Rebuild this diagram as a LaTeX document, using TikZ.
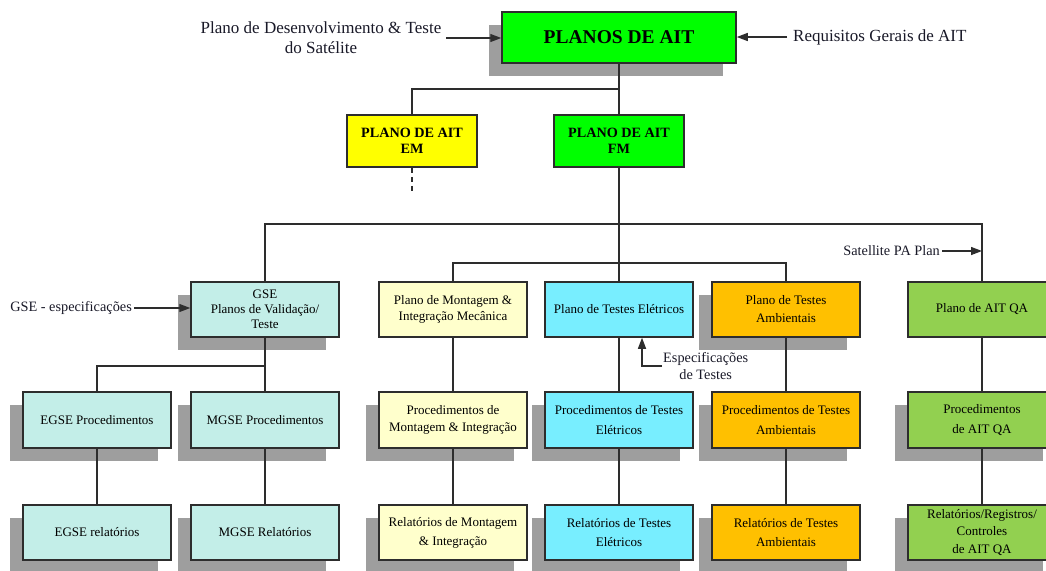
\documentclass[tikz,border=0pt]{standalone}
\usepackage{fontspec}
\setmainfont{Liberation Serif}
\usetikzlibrary{shadows,arrows.meta}
\definecolor{topgreen}{RGB}{0,255,0}
\definecolor{emyellow}{RGB}{255,255,0}
\definecolor{gsecyan}{RGB}{195,238,232}
\definecolor{monyellow}{RGB}{255,255,204}
\definecolor{elecyan}{RGB}{120,238,255}
\definecolor{amborange}{RGB}{255,192,0}
\definecolor{qagreen}{RGB}{146,208,80}
\definecolor{shgray}{RGB}{158,158,158}
\definecolor{inktext}{RGB}{25,25,40}
\definecolor{linegray}{RGB}{45,45,45}
\tikzset{
  box/.style={draw=linegray, line width=1.5pt, minimum width=148pt, minimum height=55pt,
    inner sep=2pt, align=center, text=black, font=\fontsize{13}{18}\selectfont},
  shad/.style={drop shadow={shadow xshift=-13pt, shadow yshift=-13pt, fill=shgray, opacity=1}},
  boldbox/.style={box, minimum width=130pt, minimum height=52pt, font=\bfseries\fontsize{14.2}{16.5}\selectfont},
  conn/.style={draw=linegray, line width=1.3pt},
  arr/.style={conn, -{Triangle[length=11pt,width=8pt]}},
  biglabel/.style={align=center, text=inktext, inner sep=2pt, font=\fontsize{17}{20}\selectfont},
  sidelabel/.style={align=center, text=inktext, inner sep=2pt, font=\fontsize{14.3}{17}\selectfont}
}
\begin{document}
\begin{tikzpicture}[x=1pt,y=-1pt]
\clip (0,0) rectangle (1046,570);
\fill[white] (0,0) rectangle (1046,570);

% top level
\node[box, shad, fill=topgreen, minimum width=234pt, minimum height=51pt,
  font=\bfseries\fontsize{19.5}{22}\selectfont] (top) at (619,37.5) {PLANOS DE AIT};
\node[biglabel, inner xsep=5pt] (dev) at (321,38) {Plano de Desenvolvimento \& Teste\\do Satélite};
\node[biglabel, anchor=west, inner xsep=6pt] (req) at (787,37) {Requisitos Gerais de AIT};

% second level
\node[boldbox, fill=emyellow] (em) at (412,141) {PLANO DE AIT\\EM};
\node[boldbox, fill=topgreen] (fm) at (619,141) {PLANO DE AIT\\FM};
\coordinate (emend) at (412,194);

% third level
\node[box, shad, fill=gsecyan, font=\fontsize{13}{15}\selectfont] (gse) at (265,309.5) {GSE\\Planos de Validação/\\Teste};
\node[box, fill=monyellow, font=\fontsize{13}{16}\selectfont] (mon) at (453,309.5) {Plano de Montagem \&\\Integração Mecânica};
\node[box, fill=elecyan] (elp) at (619,309.5) {Plano de Testes Elétricos};
\node[box, shad, fill=amborange] (amb) at (786,309.5) {Plano de Testes\\Ambientais};
\node[box, fill=qagreen] (qa) at (982,309.5) {Plano de AIT QA};

\node[sidelabel, anchor=east] (gspec) at (134,308) {GSE - especificações};
\node[sidelabel, anchor=east] (sat) at (942,251) {Satellite PA Plan};
\node[sidelabel, anchor=west, inner sep=1pt] (esp) at (662,366) {Especificações\\de Testes};

% procedures
\node[box, shad, fill=gsecyan, minimum height=56pt] (egsp) at (97,420) {EGSE Procedimentos};
\node[box, shad, fill=gsecyan, minimum height=56pt] (mgsp) at (265,420) {MGSE Procedimentos};
\node[box, shad, fill=monyellow, minimum height=56pt, font=\fontsize{13}{17}\selectfont] (monp) at (453,420) {Procedimentos de\\Montagem \& Integração};
\node[box, shad, fill=elecyan, minimum height=56pt, font=\fontsize{13}{20}\selectfont] (elpp) at (619,420) {Procedimentos de Testes\\Elétricos};
\node[box, shad, fill=amborange, minimum height=56pt, font=\fontsize{13}{20}\selectfont] (ambp) at (786,420) {Procedimentos de Testes\\Ambientais};
\node[box, shad, fill=qagreen, minimum height=56pt, font=\fontsize{13}{20}\selectfont] (qap) at (982,420) {Procedimentos\\de AIT QA};

% reports
\node[box, shad, fill=gsecyan] (egsr) at (97,532.5) {EGSE relatórios};
\node[box, shad, fill=gsecyan] (mgsr) at (265,532.5) {MGSE Relatórios};
\node[box, shad, fill=monyellow, font=\fontsize{13}{19}\selectfont] (monr) at (453,532.5) {Relatórios de Montagem\\\& Integração};
\node[box, shad, fill=elecyan, font=\fontsize{13}{19}\selectfont] (elpr) at (619,532.5) {Relatórios de Testes\\Elétricos};
\node[box, shad, fill=amborange, font=\fontsize{13}{19}\selectfont] (ambr) at (786,532.5) {Relatórios de Testes\\Ambientais};
\node[box, shad, fill=qagreen, font=\fontsize{13}{17.5}\selectfont] (qar) at (982,532.5) {Relatórios/Registros/\\Controles\\de AIT QA};

% bus coordinates
\coordinate (bus0) at (619,89);
\coordinate (bus1) at (619,224);
\coordinate (bus2) at (619,263);
\coordinate (bus3) at (265,366);

% arrows into top
\draw[arr] (dev.east) -- (dev.east -| top.west);
\draw[arr] (req.west) -- (req.west -| top.east);

% connectors
\draw[conn] (top.south) -- (fm.north);
\draw[conn] (em.north) -- (em.north |- bus0) -- (bus0);
\draw[conn, dash pattern=on 5pt off 4pt] (em.south) -- (emend);
\draw[conn] (fm.south) -- (elp.north);
\draw[conn] (gse.north) -- (gse.north |- bus1) -- (qa.north |- bus1) -- (qa.north);
\draw[conn] (mon.north) -- (mon.north |- bus2) -- (amb.north |- bus2) -- (amb.north);

\draw[conn] (gse.south) -- (mgsp.north);
\draw[conn] (egsp.north) -- (egsp.north |- bus3) -- (bus3);
\draw[conn] (mon.south) -- (monp.north);
\draw[conn] (elp.south) -- (elpp.north);
\draw[conn] (amb.south) -- (ambp.north);
\draw[conn] (qa.south) -- (qap.north);

\draw[conn] (egsp.south) -- (egsr.north);
\draw[conn] (mgsp.south) -- (mgsr.north);
\draw[conn] (monp.south) -- (monr.north);
\draw[conn] (elpp.south) -- (elpr.north);
\draw[conn] (ambp.south) -- (ambr.north);
\draw[conn] (qap.south) -- (qar.north);

% side arrows
\draw[arr] (gspec.east) -- (gspec.east -| gse.west);
\draw[arr] (sat.east) -- (sat.east -| qa.north);
\draw[arr] (esp.west) -| ([xshift=23pt]elp.south);
\end{tikzpicture}
\end{document}
